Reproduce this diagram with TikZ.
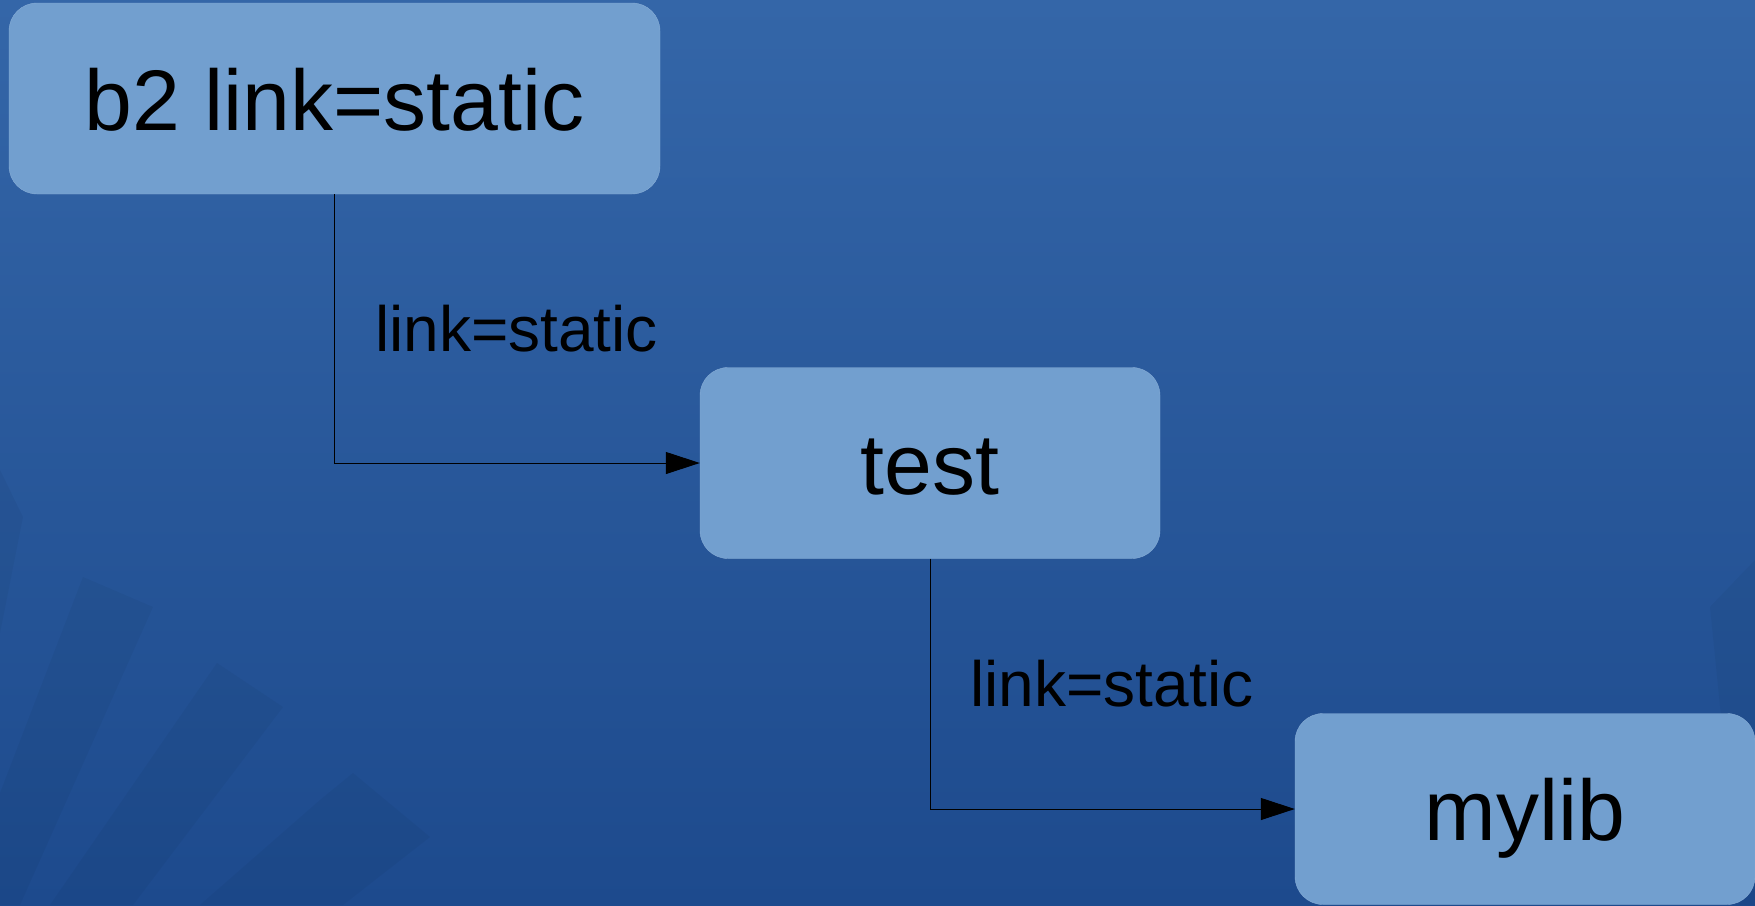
\documentclass[tikz,border=0pt]{standalone}
\usepackage{fontspec}
\setmainfont{Liberation Sans}
\definecolor{bgtop}{RGB}{52, 102, 168}
\definecolor{bgbottom}{RGB}{29, 74, 141}
\definecolor{boxblue}{RGB}{114, 159, 207}
\usetikzlibrary{arrows.meta, positioning}

\begin{document}
\begin{tikzpicture}[x=1pt, y=-1pt,
    target/.style={rectangle, rounded corners=28pt, fill=boxblue, draw=boxblue!85!white,
      minimum height=191pt, text height=63pt, text depth=0pt,
      font=\fontsize{86}{90}\selectfont},
    dep/.style={line width=1pt, -{Triangle[length=34pt, width=22pt]}},
    prop/.style={font=\fontsize{64}{70}\selectfont, inner sep=0pt}]

  % --- Background ---
  \useasboundingbox (0,0) rectangle (1755,905);
  \shade[top color=bgtop, bottom color=bgbottom] (0,0) rectangle (1755,905);
  \foreach \pts in {{(0,470) -- (23,517) -- (0,633)},
                    {(83,577) -- (153,607) -- (20,905) -- (0,905) -- (0,793)},
                    {(217,663) -- (283,707) -- (133,905) -- (50,905)},
                    {(320,800) -- (353,773) -- (430,837) -- (343,905) -- (200,905)},
                    {(1710,607) -- (1755,560) -- (1755,905) -- (1740,905)}} {
    \fill[black, opacity=0.035] \pts -- cycle;
  }

  % --- Targets ---
  \node[target, minimum width=651pt] (b2) at (334.5,98.5) {b2 link=static};
  \node[target, minimum width=460pt] (test) at (930,463) {test};
  \node[target, minimum width=460pt] (mylib) at (1525,809) {mylib};

  % --- Dependencies ---
  \draw[dep] (b2.south) |- (test.west)
    node[prop, pos=0.25, right=40pt] (prop1) {link=static};
  \draw[dep] (test.south) |- (mylib.west)
    node[prop, pos=0.25, right=40pt] (prop2) {link=static};
\end{tikzpicture}
\end{document}
